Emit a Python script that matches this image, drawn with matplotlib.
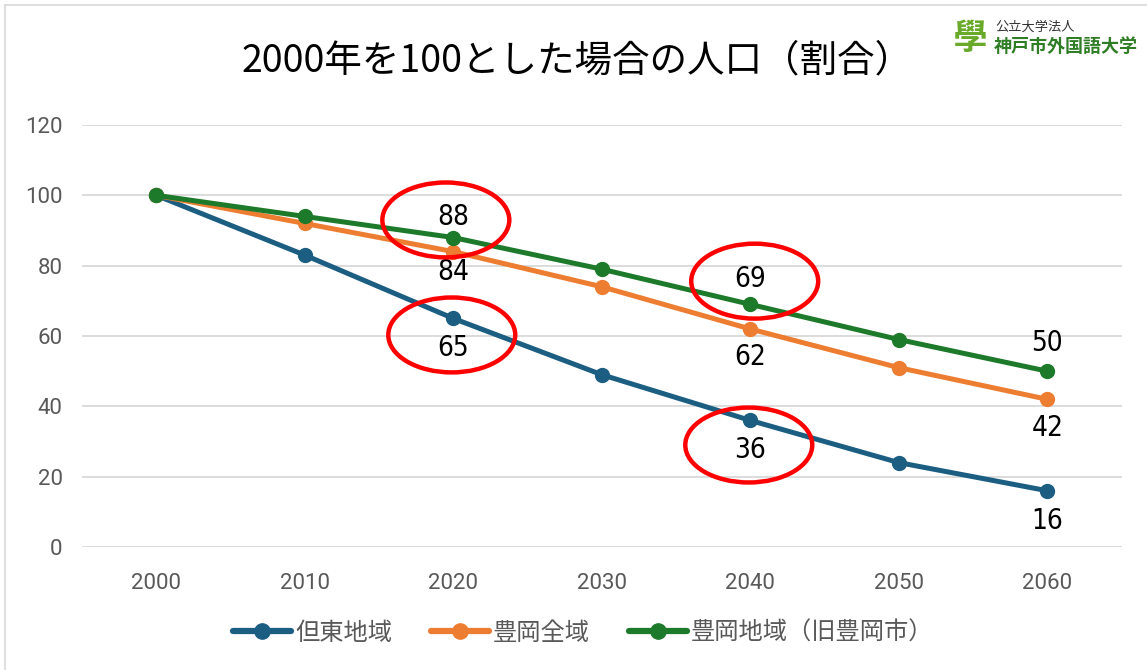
import matplotlib.pyplot as plt
from matplotlib.lines import Line2D
from matplotlib.patches import Ellipse

plt.rcParams["font.family"] = ["Noto Sans CJK JP", "DejaVu Sans"]

years = [2000, 2010, 2020, 2030, 2040, 2050, 2060]
tanto = [100, 83, 65, 49, 36, 24, 16]
toyooka_all = [100, 92, 84, 74, 62, 51, 42]
toyooka_old = [100, 94, 88, 79, 69, 59, 50]

series_names = ["但東地域", "豊岡全域", "豊岡地域（旧豊岡市）"]
series_colors = ["#1b5e82", "#ed7d31", "#1e7a2b"]

# labelled points: (series index, year index, offset in points)
labelled = [
    (2, 2, 15), (1, 2, -14.5), (0, 2, -21.5),
    (2, 4, 18), (1, 4, -20), (0, 4, -21),
    (2, 6, 20), (1, 6, -21), (0, 6, -21.5),
]

# red circles drawn around some labels: (year, value)
circles = [(2019.5, 93.0), (2019.9, 60.3), (2040.3, 75.6), (2039.9, 29.0)]

title = "2000年を100とした場合の人口（割合）"

fig = plt.figure(figsize=(11.47, 6.70), dpi=100)
ax = fig.add_axes([82 / 1147, 123 / 670, 1039.5 / 1147, 422 / 670])

all_series = [tanto, toyooka_all, toyooka_old]
for values, name, color in zip(all_series, series_names, series_colors):
    ax.plot(years, values, color=color, lw=3.6, marker="o", ms=10,
            label=name, solid_capstyle="round", zorder=3)

for si, yi, off in labelled:
    v = all_series[si][yi]
    ax.annotate(str(v), (years[yi], v), xytext=(0, off),
                textcoords="offset points", ha="center", va="center",
                fontsize=20, color="black", family="DejaVu Sans",
                fontstretch="condensed", zorder=4)

for cx, cy in circles:
    ax.add_patch(Ellipse((cx, cy), 8.55, 21.3, fill=False, ec="#ff0000",
                         lw=3.2, zorder=5, clip_on=False))

ax.set_xlim(1995, 2065)
ax.set_ylim(0, 120)
ax.set_xticks(years)
ax.set_yticks(range(0, 121, 20))
ax.grid(axis="y", color="#d9d9d9", lw=1.3)
ax.set_axisbelow(True)
for s in ax.spines.values():
    s.set_visible(False)
ax.tick_params(length=0, labelsize=16, labelcolor="#595959")
ax.tick_params(axis="x", pad=19)
ax.tick_params(axis="y", pad=14)
for lab in ax.get_xticklabels() + ax.get_yticklabels():
    lab.set_family(["Roboto", "DejaVu Sans"])

fig.text(577 / 1147, 1 - 61 / 670, title, ha="center", va="center",
         fontsize=27, color="black")

handles = [Line2D([], [], color=c, lw=4.5, marker="o", ms=11,
                  solid_capstyle="round") for c in series_colors]
fig.legend(handles, series_names, loc="center", ncol=3, frameon=False,
           bbox_to_anchor=(583 / 1147, 1 - 633 / 670), fontsize=17.5,
           labelcolor="#595959", handlelength=2.4, handletextpad=0.15,
           columnspacing=1.6)

# logo
fig.text(970 / 1147, 1 - 38 / 670, "學", ha="center", va="center",
         fontsize=25, fontweight="bold", color="#6aaa2a")
fig.text(995 / 1147, 1 - 27 / 670, "公立大学法人", ha="left", va="center",
         fontsize=9.5, color="#333333")
fig.text(994 / 1147, 1 - 46 / 670, "神戸市外国語大学", ha="left", va="center",
         fontsize=13, fontweight="bold", color="#2f7d25")

# frame lines at top and left
fig.add_artist(Line2D([5 / 1147, 1], [1 - 5 / 670, 1 - 5 / 670],
                      color="#d9d9d9", lw=1.2))
fig.add_artist(Line2D([5 / 1147, 5 / 1147], [0, 1 - 5 / 670],
                      color="#d9d9d9", lw=1.2))

fig.savefig("out.png", dpi=100)
